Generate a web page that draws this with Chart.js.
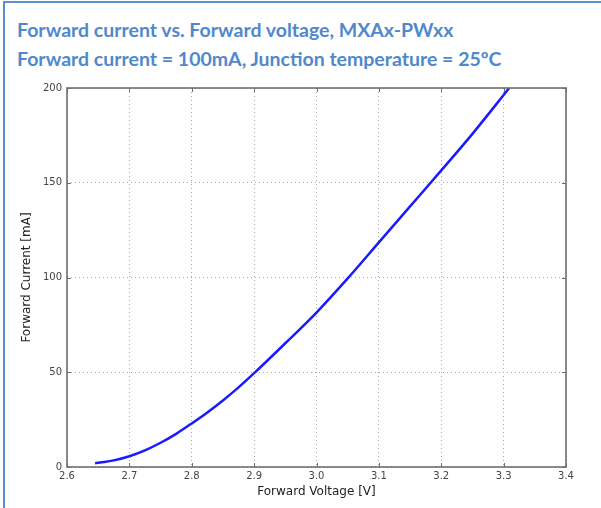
<!DOCTYPE html>
<html>
<head>
<meta charset="utf-8">
<script src="https://cdn.jsdelivr.net/npm/chart.js@4/dist/chart.umd.min.js"></script>
<style>
  html, body { margin: 0; padding: 0; background: #fff; }
  #wrap { position: relative; width: 601px; height: 508px; overflow: hidden; }
  #frame { position: absolute; left: 3px; top: 1px; width: 620px; height: 540px;
           border: 2px solid #5b8fd0; box-sizing: border-box; }
  .title { position: absolute; left: 17px; font-family: Lato, "Open Sans", sans-serif;
           font-weight: bold; font-size: 19.5px; color: #5089cb; white-space: nowrap; }
  canvas { position: absolute; left: 0; top: 0; }
</style>
</head>
<body>
<div id="wrap">
  <div id="frame"></div>
  <div class="title" style="top:18px">Forward current vs. Forward voltage, MXAx-PWxx</div>
  <div class="title" style="top:47px">Forward current = 100mA, Junction temperature = 25ºC</div>
  <canvas id="chart1" width="601" height="508"></canvas>
</div>
<script>
// values
const voltage = [2.645, 2.66, 2.675, 2.7, 2.725, 2.75, 2.775, 2.8, 2.825, 2.85, 2.875, 2.9, 2.95, 3.0, 3.05, 3.1, 3.15, 3.2, 3.25, 3.309];
const current = [2, 2.6, 3.5, 5.7, 8.8, 12.8, 17.5, 23, 28.8, 35.1, 42, 49.5, 65.3, 81.5, 99.5, 118.5, 137.5, 156.5, 175.8, 200];
const xTicks = [2.6, 2.7, 2.8, 2.9, 3.0, 3.1, 3.2, 3.3, 3.4];
const yTicks = [0, 50, 100, 150, 200];

const boxPlugin = {
  id: 'box',
  afterDatasetsDraw(chart) {
    const { ctx, chartArea: a, scales } = chart;
    ctx.save();
    ctx.strokeStyle = '#6e6e6e';
    ctx.lineWidth = 1;
    xTicks.forEach(v => {
      const x = Math.round(scales.x.getPixelForValue(v)) + 0.5;
      ctx.beginPath();
      ctx.moveTo(x, a.bottom); ctx.lineTo(x, a.bottom - 4);
      ctx.moveTo(x, a.top); ctx.lineTo(x, a.top + 4);
      ctx.stroke();
    });
    yTicks.forEach(v => {
      const y = Math.round(scales.y.getPixelForValue(v)) + 0.5;
      ctx.beginPath();
      ctx.moveTo(a.left, y); ctx.lineTo(a.left + 4, y);
      ctx.moveTo(a.right, y); ctx.lineTo(a.right - 4, y);
      ctx.stroke();
    });
    ctx.lineWidth = 1.6;
    ctx.strokeRect(a.left, a.top, a.right - a.left, a.bottom - a.top);
    ctx.restore();
  }
};

const ctx = document.getElementById('chart1').getContext('2d');
const myChart = new Chart(ctx, {
  type: 'line',
  data: {
    datasets: [
      {
        data: voltage.map((v, i) => ({ x: v, y: current[i] })),
        borderColor: '#1a1aff',
        borderWidth: 2.5,
        pointRadius: 0,
        cubicInterpolationMode: 'monotone',
        fill: false,
      },
    ],
  },
  options: {
    responsive: false,
    animation: false,
    layout: { padding: { left: 0, top: 88, right: 35, bottom: 0 } },
    plugins: { legend: { display: false }, tooltip: { enabled: false } },
    scales: {
      x: {
        type: 'linear',
        min: 2.6,
        max: 3.4,
        afterBuildTicks: s => { s.ticks = xTicks.map(v => ({ value: v })); },
        afterFit: s => { s.height = 41; },
        ticks: {
          padding: 3,
          color: '#444',
          font: { family: 'DejaVu Sans', size: 10 },
          callback: v => v.toFixed(1),
        },
        grid: { color: '#aaa', drawTicks: false, lineWidth: 1 },
        border: { display: false, dash: [1, 3] },
        title: {
          display: true,
          text: 'Forward Voltage [V]',
          color: '#222',
          font: { family: 'DejaVu Sans', size: 12 },
          padding: { top: 0, bottom: 9 },
        },
      },
      y: {
        min: 0,
        max: 200,
        afterBuildTicks: s => { s.ticks = yTicks.map(v => ({ value: v })); },
        afterFit: s => { s.width = 67; },
        ticks: {
          padding: 5,
          color: '#444',
          font: { family: 'DejaVu Sans', size: 10 },
        },
        grid: { color: '#aaa', drawTicks: false, lineWidth: 1 },
        border: { display: false, dash: [1, 3] },
        title: {
          display: true,
          text: 'Forward Current [mA]',
          color: '#222',
          font: { family: 'DejaVu Sans', size: 12 },
          padding: { top: 20, bottom: 0 },
        },
      },
    },
  },
  plugins: [boxPlugin],
});
</script>
</body>
</html>
